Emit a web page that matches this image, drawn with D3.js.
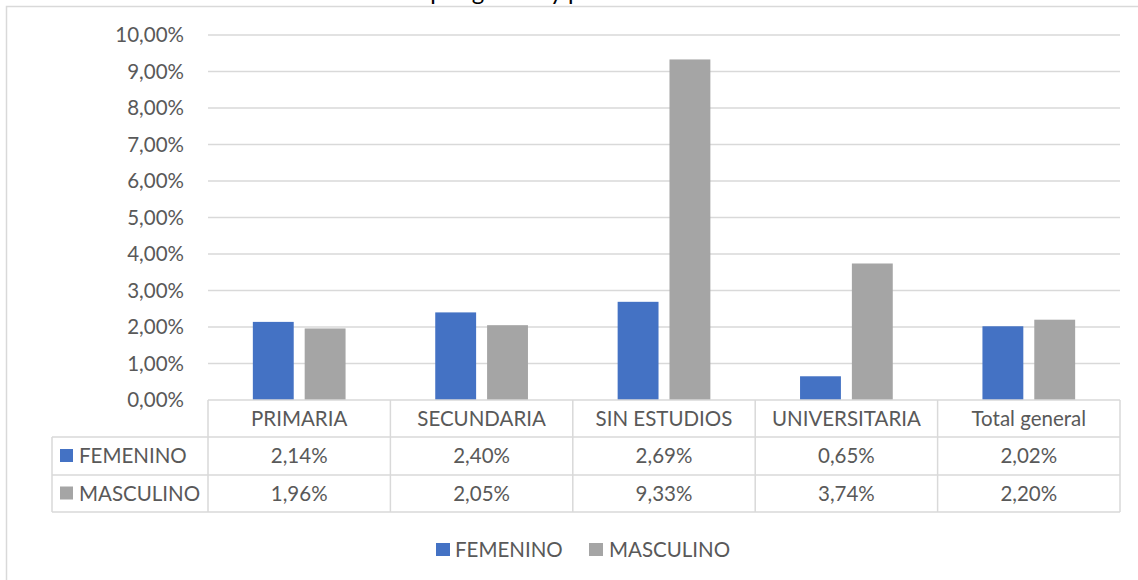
<!DOCTYPE html>
<html><head><meta charset="utf-8">
<script src="https://cdn.jsdelivr.net/npm/d3@7"></script>
<style>body{margin:0;background:#fff}svg{display:block}text{font-family:Lato,"Open Sans",sans-serif}</style>
</head><body><svg id="c" width="1138" height="580"></svg>
<script>
const categories = ["PRIMARIA","SECUNDARIA","SIN ESTUDIOS","UNIVERSITARIA","Total general"];
const seriesNames = ["FEMENINO","MASCULINO"];
const femenino = [0.0214,0.0240,0.0269,0.0065,0.0202];
const masculino = [0.0196,0.0205,0.0933,0.0374,0.0220];
const yTicks = [0,0.01,0.02,0.03,0.04,0.05,0.06,0.07,0.08,0.09,0.10];
const titleText = "Tasa por género y por nivel de estudios";

const colors = {FEMENINO:"#4472c4", MASCULINO:"#a5a5a5"};
const series = [femenino, masculino];
const loc = d3.formatLocale({decimal:",",thousands:".",grouping:[3],currency:["","€"],percent:"%"});
const fmt = loc.format(".2%");

const svg = d3.select("#c");
const textColor = "#595959", lineColor = "#d9d9d9";
const L=208, R=1120, T=35, B=400, FS=20.5;

// outer border
svg.append("rect").attr("x",6.5).attr("y",6.5).attr("width",1200).attr("height",700)
  .attr("fill","none").attr("stroke",lineColor).attr("stroke-width",1.5);
// clipped title (cut off at the top, as in the reference)
svg.append("text").attr("x",582).attr("y",0).attr("text-anchor","middle")
  .attr("font-size",24).attr("fill","#000").text(titleText);

const y = d3.scaleLinear().domain([0,0.10]).range([B,T]);
const x = d3.scaleBand().domain(categories).range([L,R]);
const xs = d3.scaleBand().domain(seriesNames).range([0,x.bandwidth()]).paddingInner(0.2115).paddingOuter(0.865);

// gridlines
svg.append("g").selectAll("line").data(yTicks.filter(d=>d>0)).join("line")
  .attr("x1",L).attr("x2",R).attr("y1",d=>y(d)).attr("y2",d=>y(d))
  .attr("stroke",lineColor).attr("stroke-width",1.3);

// y axis labels
const yAxis = d3.axisLeft(y).tickValues(yTicks).tickFormat(fmt).tickSize(0).tickPadding(0);
const ga = svg.append("g").attr("transform",`translate(184,0)`).call(yAxis);
ga.select(".domain").remove();
ga.selectAll("text").attr("font-size",FS).attr("fill",textColor).attr("font-family","Lato,sans-serif");

// bars
seriesNames.forEach((s,si)=>{
  svg.append("g").selectAll("rect").data(categories).join("rect")
    .attr("x",c=>x(c)+xs(s)).attr("width",xs.bandwidth())
    .attr("y",(c,i)=>y(series[si][i])).attr("height",(c,i)=>B-y(series[si][i]))
    .attr("fill",colors[s]);
});

// data table
const rowH = [400,437,475,512];
const tbl = svg.append("g").attr("stroke",lineColor).attr("stroke-width",1.5).attr("fill","none");
tbl.append("line").attr("x1",L).attr("x2",R).attr("y1",rowH[0]).attr("y2",rowH[0]);
[1,2,3].forEach(k=>tbl.append("line").attr("x1",52).attr("x2",R).attr("y1",rowH[k]).attr("y2",rowH[k]));
tbl.append("line").attr("x1",52).attr("x2",52).attr("y1",rowH[1]).attr("y2",rowH[3]);
const bounds = categories.map(c=>x(c)).concat([R]);
bounds.forEach(bx=>tbl.append("line").attr("x1",bx).attr("x2",bx).attr("y1",rowH[0]).attr("y2",rowH[3]));

svg.append("g").selectAll("text").data(categories).join("text")
  .attr("x",c=>x(c)+x.bandwidth()/2).attr("y",(rowH[0]+rowH[1])/2).attr("dy","0.35em")
  .attr("text-anchor","middle").attr("font-size",FS).attr("fill",textColor).text(c=>c);

seriesNames.forEach((s,si)=>{
  const cy = (rowH[si+1]+rowH[si+2])/2;
  svg.append("rect").attr("x",60).attr("y",cy-7).attr("width",13).attr("height",13).attr("fill",colors[s]);
  svg.append("text").attr("x",79).attr("y",cy).attr("dy","0.35em").attr("font-size",FS).attr("fill",textColor).text(s);
  svg.append("g").selectAll("text").data(categories).join("text")
    .attr("x",c=>x(c)+x.bandwidth()/2).attr("y",cy).attr("dy","0.35em")
    .attr("text-anchor","middle").attr("font-size",FS).attr("fill",textColor)
    .text((c,i)=>fmt(series[si][i]));
});

// legend
const leg = [{s:"FEMENINO",x:436,tx:455},{s:"MASCULINO",x:589,tx:609}];
leg.forEach(d=>{
  svg.append("rect").attr("x",d.x).attr("y",543).attr("width",14).attr("height",13).attr("fill",colors[d.s]);
  svg.append("text").attr("x",d.tx).attr("y",549.5).attr("dy","0.35em").attr("font-size",FS).attr("fill",textColor).text(d.s);
});
</script></body></html>
